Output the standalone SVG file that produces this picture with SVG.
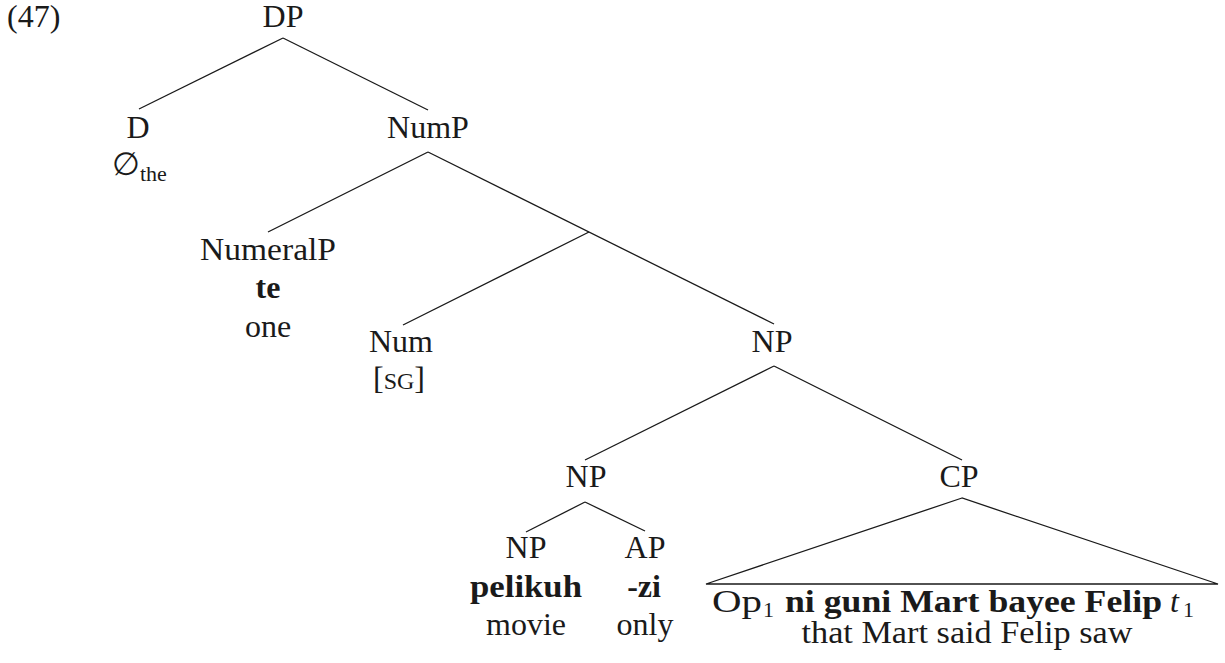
<svg xmlns="http://www.w3.org/2000/svg" width="1225" height="663" viewBox="0 0 1225 663">
<style>
text{font-family:"Liberation Serif","DejaVu Serif",serif;font-size:32px;fill:#1a1a1a;text-anchor:middle}
.b{font-weight:bold}
.s{text-anchor:start}
.sub{font-size:22px}
.sc{font-size:24px}
line,polyline,polygon{stroke:#1a1a1a;stroke-width:1.3;fill:none}
</style>
<rect width="1225" height="663" fill="#fff"/>
<text class="s" x="7" y="27">(47)</text>
<g id="connectors">
<line x1="283" y1="38" x2="139" y2="109"/>
<line x1="283" y1="38" x2="428" y2="110"/>
<line x1="428" y1="152" x2="268" y2="232"/>
<line x1="428" y1="152" x2="774" y2="324"/>
<line x1="589" y1="232" x2="403" y2="325"/>
<line x1="774" y1="366" x2="585" y2="460"/>
<line x1="774" y1="366" x2="962" y2="460"/>
<line x1="585" y1="502" x2="526" y2="532"/>
<line x1="585" y1="502" x2="645" y2="531"/>
<polygon points="962,498 706,584 1218,584"/>
</g>
<g id="DP"><text x="283" y="27">DP</text></g>
<g id="D"><text x="138" y="138">D</text>
<text class="s" x="112" y="175">∅<tspan class="sub" dy="6">the</tspan></text></g>
<g id="NumP"><text x="428" y="138">NumP</text></g>
<g id="NumeralP"><text x="268" y="260" textLength="136" lengthAdjust="spacingAndGlyphs">NumeralP</text>
<text class="b" x="268" y="298">te</text>
<text x="268" y="337">one</text></g>
<g id="Num"><text x="401" y="352">Num</text>
<text x="399" y="389">[<tspan class="sc">SG</tspan>]</text></g>
<g id="NP1"><text x="772" y="352">NP</text></g>
<g id="NP2"><text x="586" y="487">NP</text></g>
<g id="NP3"><text x="526" y="558">NP</text>
<text class="b" x="526" y="597" textLength="112" lengthAdjust="spacingAndGlyphs">pelikuh</text>
<text x="526" y="635">movie</text></g>
<g id="AP"><text x="645" y="558">AP</text>
<text class="b" x="644" y="597">-zi</text>
<text x="645" y="635">only</text></g>
<g id="CP"><text x="959" y="487">CP</text>
<text class="s" x="712" y="612" textLength="50" lengthAdjust="spacingAndGlyphs">Op</text>
<text class="s sub" x="763" y="617">1</text>
<text class="s b" x="785" y="612" textLength="377" lengthAdjust="spacingAndGlyphs">ni guni Mart bayee Felip</text>
<text class="s" x="1170" y="612" font-style="italic">t</text>
<text class="s sub" x="1183" y="617">1</text>
<text x="967" y="643" textLength="331" lengthAdjust="spacingAndGlyphs">that Mart said Felip saw</text></g>
</svg>
